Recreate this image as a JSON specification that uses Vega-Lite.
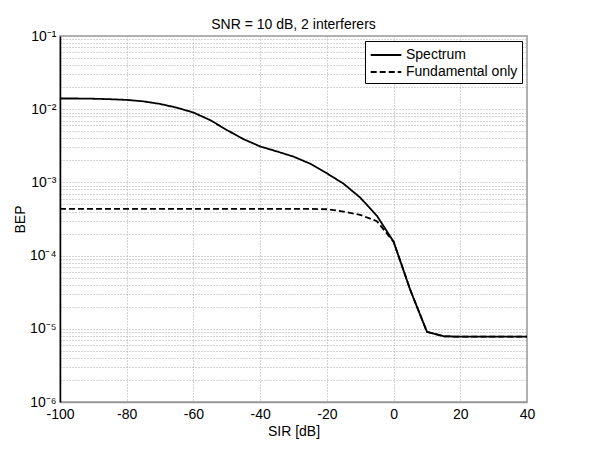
{
  "$schema": "https://vega.github.io/schema/vega-lite/v6.json",
  "autosize": {"type": "none"},
  "padding": {"left": 60, "top": 36, "right": 73, "bottom": 52},
  "width": 467,
  "height": 366,
  "background": "white",
  "title": {"text": "SNR = 10 dB, 2 interferers", "fontSize": 14, "fontWeight": "normal", "font": "Liberation Sans", "color": "black", "offset": -3},
  "config": {
    "font": "Liberation Sans",
    "view": {"stroke": "#999999", "strokeWidth": 1.5},
    "axis": {"labelColor": "black", "titleColor": "black", "labelFont": "Liberation Sans", "titleFont": "Liberation Sans", "titleFontWeight": "normal"}
  },
  "data": {"values": [
    {"sir": -100, "bep": 0.0140, "series": "Spectrum"},
    {"sir": -95, "bep": 0.0140, "series": "Spectrum"},
    {"sir": -90, "bep": 0.0139, "series": "Spectrum"},
    {"sir": -85, "bep": 0.0137, "series": "Spectrum"},
    {"sir": -80, "bep": 0.0134, "series": "Spectrum"},
    {"sir": -75, "bep": 0.0128, "series": "Spectrum"},
    {"sir": -70, "bep": 0.0118, "series": "Spectrum"},
    {"sir": -65, "bep": 0.0105, "series": "Spectrum"},
    {"sir": -60, "bep": 0.0090, "series": "Spectrum"},
    {"sir": -55, "bep": 0.0071, "series": "Spectrum"},
    {"sir": -50, "bep": 0.0052, "series": "Spectrum"},
    {"sir": -45, "bep": 0.0039, "series": "Spectrum"},
    {"sir": -40, "bep": 0.0031, "series": "Spectrum"},
    {"sir": -35, "bep": 0.00265, "series": "Spectrum"},
    {"sir": -30, "bep": 0.00225, "series": "Spectrum"},
    {"sir": -25, "bep": 0.0018, "series": "Spectrum"},
    {"sir": -20, "bep": 0.00133, "series": "Spectrum"},
    {"sir": -15, "bep": 0.00096, "series": "Spectrum"},
    {"sir": -10, "bep": 0.00062, "series": "Spectrum"},
    {"sir": -5, "bep": 0.00035, "series": "Spectrum"},
    {"sir": 0, "bep": 0.000155, "series": "Spectrum"},
    {"sir": 5, "bep": 0.000034, "series": "Spectrum"},
    {"sir": 10, "bep": 0.0000091, "series": "Spectrum"},
    {"sir": 15, "bep": 0.0000079, "series": "Spectrum"},
    {"sir": 20, "bep": 0.0000078, "series": "Spectrum"},
    {"sir": 25, "bep": 0.0000078, "series": "Spectrum"},
    {"sir": 30, "bep": 0.0000078, "series": "Spectrum"},
    {"sir": 35, "bep": 0.0000078, "series": "Spectrum"},
    {"sir": 40, "bep": 0.0000078, "series": "Spectrum"},
    {"sir": -100, "bep": 0.000435, "series": "Fundamental only"},
    {"sir": -95, "bep": 0.000435, "series": "Fundamental only"},
    {"sir": -90, "bep": 0.000435, "series": "Fundamental only"},
    {"sir": -85, "bep": 0.000435, "series": "Fundamental only"},
    {"sir": -80, "bep": 0.000435, "series": "Fundamental only"},
    {"sir": -75, "bep": 0.000435, "series": "Fundamental only"},
    {"sir": -70, "bep": 0.000435, "series": "Fundamental only"},
    {"sir": -65, "bep": 0.000435, "series": "Fundamental only"},
    {"sir": -60, "bep": 0.000435, "series": "Fundamental only"},
    {"sir": -55, "bep": 0.000435, "series": "Fundamental only"},
    {"sir": -50, "bep": 0.000435, "series": "Fundamental only"},
    {"sir": -45, "bep": 0.000435, "series": "Fundamental only"},
    {"sir": -40, "bep": 0.000435, "series": "Fundamental only"},
    {"sir": -35, "bep": 0.000435, "series": "Fundamental only"},
    {"sir": -30, "bep": 0.000435, "series": "Fundamental only"},
    {"sir": -25, "bep": 0.000434, "series": "Fundamental only"},
    {"sir": -20, "bep": 0.00043, "series": "Fundamental only"},
    {"sir": -15, "bep": 0.00040, "series": "Fundamental only"},
    {"sir": -10, "bep": 0.00036, "series": "Fundamental only"},
    {"sir": -5, "bep": 0.000295, "series": "Fundamental only"},
    {"sir": 0, "bep": 0.000155, "series": "Fundamental only"},
    {"sir": 5, "bep": 0.000034, "series": "Fundamental only"},
    {"sir": 10, "bep": 0.0000091, "series": "Fundamental only"},
    {"sir": 15, "bep": 0.0000079, "series": "Fundamental only"},
    {"sir": 20, "bep": 0.0000078, "series": "Fundamental only"},
    {"sir": 25, "bep": 0.0000078, "series": "Fundamental only"},
    {"sir": 30, "bep": 0.0000078, "series": "Fundamental only"},
    {"sir": 35, "bep": 0.0000078, "series": "Fundamental only"},
    {"sir": 40, "bep": 0.0000078, "series": "Fundamental only"}
  ]},
  "mark": {"type": "line", "color": "black", "strokeWidth": 1.8, "clip": true},
  "encoding": {
    "x": {
      "field": "sir", "type": "quantitative",
      "scale": {"domain": [-100, 40], "nice": false, "zero": false},
      "axis": {
        "values": [-100, -80, -60, -40, -20, 0, 20, 40],
        "labelExpr": "'' + datum.value",
        "title": "SIR [dB]", "titleFontSize": 14, "labelFontSize": 14,
        "titlePadding": 3, "labelPadding": 5, "ticks": false,
        "domainColor": "#999999", "domainWidth": 1.5,
        "grid": true, "gridColor": "#aaaaaa", "gridDash": [1, 2], "gridWidth": 1,
        "labelFlush": false
      }
    },
    "y": {
      "field": "bep", "type": "quantitative",
      "scale": {"type": "log", "domain": [0.000001, 0.1], "nice": false},
      "axis": {
        "values": [0.000001, 0.000002, 0.000003, 0.000004, 0.000005, 0.000006, 0.000007, 0.000008, 0.000009,
                   0.00001, 0.00002, 0.00003, 0.00004, 0.00005, 0.00006, 0.00007, 0.00008, 0.00009,
                   0.0001, 0.0002, 0.0003, 0.0004, 0.0005, 0.0006, 0.0007, 0.0008, 0.0009,
                   0.001, 0.002, 0.003, 0.004, 0.005, 0.006, 0.007, 0.008, 0.009,
                   0.01, 0.02, 0.03, 0.04, 0.05, 0.06, 0.07, 0.08, 0.09, 0.1],
        "labelExpr": "abs(log(datum.value)/LN10 - round(log(datum.value)/LN10)) < 0.001 ? '10⁻' + ['⁰','¹','²','³','⁴','⁵','⁶'][-round(log(datum.value)/LN10)] : ''",
        "title": "BEP", "titleFontSize": 14, "labelFontSize": 14,
        "titlePadding": 2, "labelPadding": 4, "ticks": false,
        "domainColor": "black", "domainWidth": 1.5,
        "grid": true, "gridColor": "#aaaaaa", "gridDash": [1, 2], "gridWidth": 1,
        "labelFlush": false, "labelOverlap": false
      }
    },
    "strokeDash": {
      "field": "series", "type": "nominal",
      "scale": {"domain": ["Spectrum", "Fundamental only"], "range": [[1, 0], [6, 3]]},
      "legend": {
        "title": null, "orient": "top-right", "offset": 5,
        "fillColor": "white", "strokeColor": "black", "padding": 4,
        "labelFontSize": 14, "labelColor": "black", "labelFont": "Liberation Sans",
        "symbolType": "M-1.7,0H1.7", "symbolSize": 324, "symbolStrokeWidth": 1.8, "symbolStrokeColor": "black",
        "symbolFillColor": "transparent", "symbolOffset": 7,
        "labelOffset": 10, "rowPadding": 0
      }
    }
  }
}
